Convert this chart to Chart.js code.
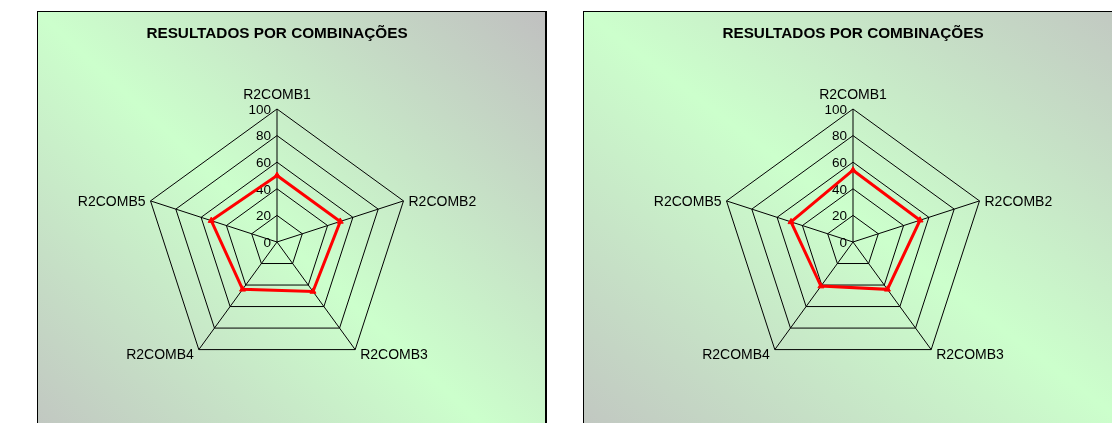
<!DOCTYPE html>
<html>
<head>
<meta charset="utf-8">
<script src="https://cdn.jsdelivr.net/npm/chart.js@4/dist/chart.umd.min.js"></script>
<style>
    body { margin: 0; width: 1112px; height: 423px; overflow: hidden; background: #fff; position: relative; }
    .box {
        position: absolute; top: 11px; height: 470px;
        border: 1px solid #000; border-right-width: 2px;
        background: linear-gradient(to top right, #c0c0c0 0%, #ccffcc 50%, #c0c0c0 100%);
    }
    canvas { position: absolute; top: 12px; }
</style>
</head>
<body>
<div class="box" style="left:37px; width:507px;"></div>
<div class="box" style="left:583px; width:620px;"></div>
<canvas id="leftChart" width="460" height="411" style="left:47px;"></canvas>
<canvas id="rightChart" width="460" height="411" style="left:623px;"></canvas>
<script>
const chartTitle = 'RESULTADOS POR COMBINAÇÕES';
const categories = ['R2COMB1', 'R2COMB2', 'R2COMB3', 'R2COMB4', 'R2COMB5'];
const leftValues = [50, 50, 46, 44, 52];
const rightValues = [54, 53, 44, 41, 49];
const tickValues = [0, 20, 40, 60, 80, 100];

const FONT = '"Liberation Sans", Arial, sans-serif';

// tick numbers left of the vertical axis + category names at the outer corners
const radarText = {
    id: 'radarText',
    beforeDatasetsDraw(chart) {
        const scale = chart.scales.r;
        const ctx = chart.ctx;
        ctx.save();
        ctx.fillStyle = '#000';
        ctx.font = '13.5px ' + FONT;
        ctx.textAlign = 'right';
        ctx.textBaseline = 'middle';
        tickValues.forEach(v => {
            const d = scale.getDistanceFromCenterForValue(v);
            ctx.fillText(String(v), scale.xCenter - 6, scale.yCenter - d + 1);
        });
        ctx.font = '14px ' + FONT;
        ctx.textBaseline = 'alphabetic';
        chart.data.labels.forEach((label, i) => {
            const p = scale.getPointPosition(i, scale.drawingArea);
            const a = scale.getIndexAngle(i);
            const s = Math.sin(a), c = Math.cos(a);
            let x = p.x, y = p.y;
            if (Math.abs(s) < 0.1) {
                ctx.textAlign = 'center';
                y -= 10;
            } else {
                ctx.textAlign = s > 0 ? 'left' : 'right';
                x += s > 0 ? 5 : -5;
                y += c > 0 ? 5.5 : 9;
            }
            ctx.fillText(label, x, y);
        });
        ctx.restore();
    }
};

function initRadar(id, values) {
    const ctx = document.getElementById(id).getContext('2d');
    return new Chart(ctx, {
        type: 'radar',
        data: {
            labels: categories,
            datasets: [{
                data: values,
                borderColor: '#ff0000',
                borderWidth: 3,
                fill: false,
                pointStyle: 'triangle',
                pointRadius: 3.5,
                pointBackgroundColor: '#ff0000',
                pointBorderColor: '#ff0000',
                pointBorderWidth: 1
            }]
        },
        options: {
            responsive: false,
            animation: false,
            layout: { padding: { top: 0, bottom: 47.5, left: 0, right: 0 } },
            plugins: {
                legend: { display: false },
                tooltip: { enabled: false },
                title: {
                    display: true,
                    text: chartTitle,
                    color: '#000',
                    font: { family: FONT, size: 15.3, weight: 'bold', lineHeight: 1.2 },
                    padding: { top: 13, bottom: 65.5 }
                }
            },
            scales: {
                r: {
                    min: 0,
                    max: 100,
                    ticks: { display: false, stepSize: 20 },
                    grid: { color: '#000', lineWidth: 1 },
                    angleLines: { color: '#000', lineWidth: 1 },
                    pointLabels: { display: false }
                }
            }
        },
        plugins: [radarText]
    });
}

initRadar('leftChart', leftValues);
initRadar('rightChart', rightValues);
</script>
</body>
</html>
